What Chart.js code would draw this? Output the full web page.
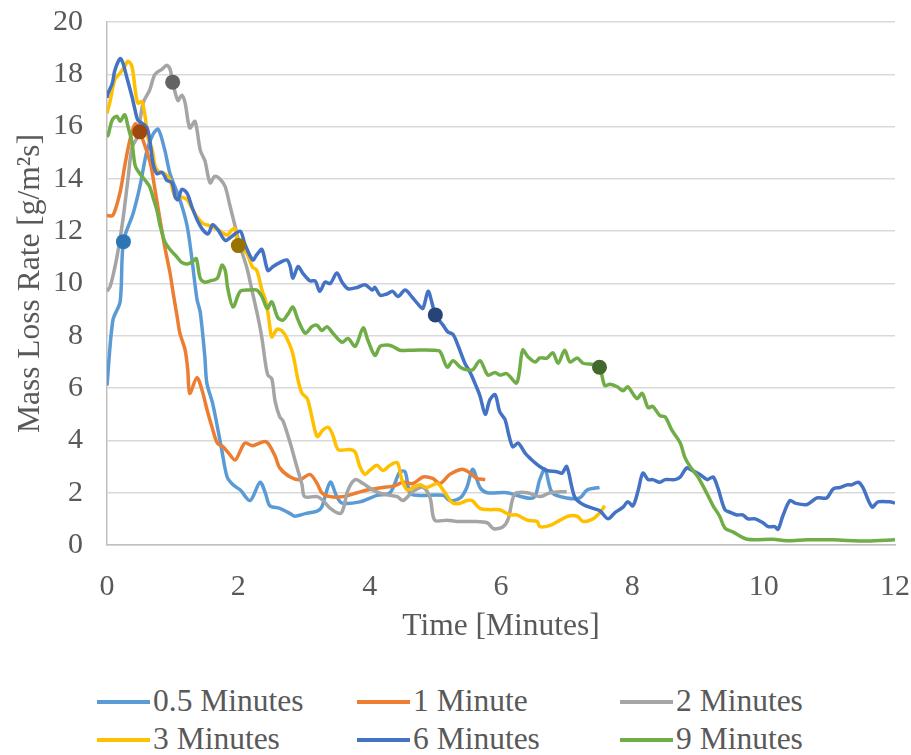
<!DOCTYPE html>
<html>
<head>
<meta charset="utf-8">
<script src="https://cdn.jsdelivr.net/npm/chart.js@4"></script>
<style>
  body { margin: 0; background: #fff; font-family: "Liberation Serif", "Times New Roman", serif; }
  #wrap { position: relative; width: 911px; height: 755px; }
  #legend { position: absolute; left: 0; top: 683px; width: 911px; }
  .item { position: absolute; font-size: 31.5px; color: #595959; line-height: 36px; white-space: nowrap; }
  .item span.swatch { display: inline-block; width: 53px; height: 4px; vertical-align: middle; margin-right: 3px; position: relative; top: -2px; }
</style>
</head>
<body>
<div id="wrap">
  <canvas id="massLoss" width="911" height="660"></canvas>
  <div id="legend"></div>
</div>
<script>
// Series labels and colours
const seriesNames = ['0.5 Minutes', '1 Minute', '2 Minutes', '3 Minutes', '6 Minutes', '9 Minutes'];
const lineColors = ['#5B9BD5', '#ED7D31', '#A5A5A5', '#FFC000', '#4472C4', '#70AD47'];
const markerColors = ['#2E75B6', '#9E480E', '#636363', '#997300', '#264478', '#43682B'];

// Heating time markers (time, rate)
const markerTimes = [0.25, 0.5, 1, 2, 5, 7.5];
const markerValues = [11.6, 15.8, 17.7, 11.45, 8.8, 6.8];

// 0.5 Minutes
const t05 = [0, 0.09, 0.2, 0.25, 0.4, 0.5, 0.61, 0.7, 0.78, 0.88, 0.96, 1.11, 1.22, 1.29, 1.37, 1.42, 1.49, 1.52, 1.61, 1.69, 1.75, 1.83, 1.92, 2.03, 2.18, 2.33, 2.41, 2.48, 2.63, 2.79, 2.86, 3.02, 3.2, 3.27, 3.4, 3.5, 3.58, 3.85, 4.11, 4.31, 4.46, 4.54, 4.61, 4.72, 5.12, 5.22, 5.38, 5.48, 5.57, 5.68, 5.79, 6.09, 6.49, 6.59, 6.67, 6.78, 7.0, 7.2, 7.31, 7.5];
const v05 = [6.1, 8.6, 9.3, 11.6, 12.7, 13.7, 15.1, 15.7, 15.9, 15.1, 14.2, 13.2, 12.2, 11.0, 9.4, 8.9, 7.2, 6.2, 5.4, 4.4, 3.6, 2.6, 2.3, 2.1, 1.7, 2.4, 2.0, 1.5, 1.4, 1.2, 1.1, 1.2, 1.3, 1.45, 2.4, 1.85, 1.6, 1.65, 1.9, 2.0, 2.8, 2.8, 2.0, 1.9, 1.9, 1.7, 1.8, 2.2, 2.9, 2.2, 2.0, 2.0, 1.8, 2.5, 2.9, 2.0, 1.8, 1.8, 2.1, 2.2];

// 1 Minute
const t1 = [0, 0.09, 0.2, 0.27, 0.35, 0.43, 0.5, 0.66, 0.73, 0.81, 0.88, 0.96, 1.0, 1.07, 1.11, 1.19, 1.23, 1.26, 1.37, 1.45, 1.52, 1.6, 1.68, 1.77, 1.84, 1.95, 2.03, 2.1, 2.22, 2.38, 2.45, 2.56, 2.63, 2.79, 2.94, 3.09, 3.2, 3.27, 3.4, 3.59, 3.81, 3.96, 4.2, 4.36, 4.51, 4.66, 4.81, 4.96, 5.07, 5.22, 5.41, 5.53, 5.63, 5.76];
const v1 = [12.6, 12.6, 13.5, 14.5, 15.5, 16.1, 15.8, 14.6, 13.6, 12.4, 11.4, 10.4, 9.75, 8.7, 8.1, 7.45, 6.7, 5.8, 6.4, 5.9, 5.2, 4.5, 3.9, 3.75, 3.55, 3.25, 3.6, 3.9, 3.8, 3.95, 3.9, 3.4, 2.95, 2.6, 2.5, 2.7, 2.35, 2.0, 1.85, 1.85, 2.0, 2.1, 2.2, 2.25, 2.4, 2.35, 2.6, 2.55, 2.35, 2.7, 2.9, 2.75, 2.55, 2.5];

// 2 Minutes
const t2 = [0, 0.05, 0.15, 0.24, 0.32, 0.38, 0.46, 0.55, 0.65, 0.73, 0.84, 0.91, 0.96, 1.0, 1.08, 1.14, 1.19, 1.26, 1.34, 1.42, 1.49, 1.57, 1.64, 1.72, 1.8, 1.87, 1.95, 2.03, 2.13, 2.22, 2.3, 2.36, 2.41, 2.45, 2.51, 2.56, 2.63, 2.68, 2.79, 2.89, 2.97, 3.01, 3.2, 3.29, 3.4, 3.55, 3.6, 3.67, 3.78, 3.9, 4.05, 4.2, 4.42, 4.51, 4.66, 4.81, 4.92, 4.99, 5.18, 5.33, 5.57, 5.79, 5.89, 6.03, 6.11, 6.21, 6.4, 6.59, 6.75, 7.0];
const v2 = [9.7, 9.9, 11.0, 12.4, 14.0, 15.2, 15.6, 16.9, 17.4, 18.0, 18.2, 18.35, 18.2, 17.7, 17.0, 17.2, 16.9, 15.95, 16.2, 15.1, 14.7, 13.85, 14.1, 14.0, 13.7, 13.0, 12.2, 11.4, 10.6, 9.6, 8.7, 7.9, 7.0, 6.5, 6.35, 5.5, 4.9, 4.75, 3.9, 3.0, 2.3, 1.85, 1.85, 1.7, 1.4, 1.2, 1.4, 2.1, 2.5, 2.35, 2.1, 1.95, 1.85, 1.7, 2.05, 2.2, 1.8, 0.95, 0.95, 0.9, 0.9, 0.85, 0.62, 0.7, 1.0, 1.95, 2.0, 1.85, 2.0, 2.05];

// 3 Minutes
const t3 = [0, 0.05, 0.12, 0.2, 0.27, 0.32, 0.38, 0.43, 0.47, 0.53, 0.58, 0.62, 0.69, 0.73, 0.78, 0.88, 0.96, 1.04, 1.14, 1.22, 1.29, 1.37, 1.46, 1.57, 1.69, 1.83, 1.9, 1.95, 2.0, 2.13, 2.21, 2.28, 2.36, 2.41, 2.45, 2.48, 2.51, 2.59, 2.66, 2.74, 2.82, 2.86, 2.91, 2.97, 3.05, 3.12, 3.2, 3.29, 3.37, 3.44, 3.52, 3.7, 3.78, 3.85, 3.93, 4.0, 4.11, 4.2, 4.31, 4.42, 4.49, 4.57, 4.66, 4.77, 4.87, 5.03, 5.12, 5.2, 5.27, 5.38, 5.48, 5.56, 5.68, 5.83, 5.98, 6.14, 6.24, 6.4, 6.55, 6.59, 6.75, 6.9, 7.02, 7.16, 7.25, 7.4, 7.51, 7.58];
const v3 = [16.5, 17.0, 17.8, 18.05, 18.3, 18.5, 18.3, 17.4, 16.9, 16.95, 16.4, 15.6, 15.1, 14.5, 14.3, 14.2, 13.95, 13.3, 13.3, 13.2, 12.9, 12.55, 12.3, 12.2, 12.05, 11.85, 12.05, 12.1, 11.45, 11.15, 10.65, 10.5, 9.75, 9.4, 8.9, 8.35, 7.95, 8.25, 8.2, 7.9, 7.4, 6.95, 6.3, 5.8, 5.6, 4.9, 4.15, 4.4, 4.5, 4.2, 3.65, 3.65, 3.55, 3.0, 2.7, 2.85, 3.05, 2.85, 3.05, 3.15, 2.5, 2.1, 2.2, 2.3, 2.2, 2.35, 2.1, 1.8, 1.6, 1.6, 1.7, 1.7, 1.4, 1.35, 1.35, 1.15, 1.15, 0.95, 0.9, 0.7, 0.75, 0.95, 1.1, 1.1, 0.9, 1.0, 1.25, 1.5];

// 6 Minutes
const t6 = [0, 0.02, 0.08, 0.12, 0.2, 0.24, 0.3, 0.38, 0.43, 0.47, 0.55, 0.61, 0.65, 0.7, 0.76, 0.84, 0.91, 0.99, 1.04, 1.08, 1.14, 1.22, 1.29, 1.37, 1.46, 1.54, 1.61, 1.69, 1.8, 1.9, 2.03, 2.1, 2.22, 2.28, 2.36, 2.45, 2.53, 2.63, 2.74, 2.79, 2.83, 2.91, 2.98, 3.09, 3.17, 3.24, 3.32, 3.4, 3.5, 3.58, 3.67, 3.81, 3.93, 4.04, 4.08, 4.16, 4.26, 4.35, 4.43, 4.54, 4.64, 4.74, 4.81, 4.89, 4.95, 5.0, 5.12, 5.19, 5.27, 5.35, 5.45, 5.53, 5.6, 5.68, 5.76, 5.83, 5.91, 5.98, 6.06, 6.12, 6.18, 6.26, 6.37, 6.47, 6.59, 6.7, 6.85, 6.93, 7.0, 7.08, 7.13, 7.25, 7.4, 7.51, 7.63, 7.74, 7.86, 7.93, 8.01, 8.09, 8.16, 8.24, 8.31, 8.42, 8.5, 8.65, 8.73, 8.83, 8.91, 9.03, 9.14, 9.23, 9.3, 9.41, 9.49, 9.59, 9.68, 9.76, 9.87, 9.99, 10.07, 10.17, 10.22, 10.29, 10.4, 10.48, 10.66, 10.81, 10.96, 11.06, 11.16, 11.27, 11.34, 11.44, 11.51, 11.65, 11.74, 11.92, 12.0];
const v6 = [17.1, 17.3, 17.65, 18.15, 18.6, 18.45, 17.9, 17.15, 16.6, 16.25, 16.1, 15.95, 15.5, 14.6, 14.2, 14.25, 13.95, 13.85, 13.3, 13.2, 13.6, 13.45, 12.95, 12.45, 12.05, 11.9, 12.25, 12.05, 11.65, 11.8, 12.0, 11.5, 10.9, 11.1, 11.3, 10.5, 10.65, 10.8, 10.9, 10.65, 10.2, 10.65, 10.4, 10.1, 10.1, 9.7, 10.05, 10.0, 10.4, 10.05, 9.8, 9.85, 9.95, 9.75, 9.85, 9.55, 9.6, 9.7, 9.5, 9.75, 9.5, 9.2, 9.05, 9.7, 9.25, 8.8, 8.4, 8.15, 8.05, 7.6, 6.95, 6.6, 6.2, 5.7, 5.0, 5.55, 5.75, 5.1, 4.8, 4.2, 3.75, 3.9, 3.5, 3.25, 3.0, 2.85, 2.8, 2.75, 3.0, 2.2, 1.8, 1.55, 1.4, 1.3, 1.0, 1.25, 1.45, 1.65, 1.5, 2.1, 2.75, 2.5, 2.5, 2.4, 2.5, 2.5, 2.6, 2.95, 2.85, 2.7, 2.5, 2.6, 2.2, 1.35, 1.25, 1.15, 1.15, 1.0, 1.0, 0.85, 0.7, 0.7, 0.6, 1.1, 1.7, 1.6, 1.55, 1.8, 1.8, 2.15, 2.2, 2.3, 2.3, 2.4, 2.2, 1.45, 1.65, 1.65, 1.6];

// 9 Minutes
const t9 = [0, 0.02, 0.08, 0.15, 0.2, 0.27, 0.32, 0.38, 0.43, 0.5, 0.58, 0.65, 0.7, 0.76, 0.81, 0.88, 0.96, 1.07, 1.14, 1.23, 1.31, 1.36, 1.42, 1.49, 1.57, 1.68, 1.75, 1.8, 1.84, 1.92, 2.03, 2.18, 2.28, 2.36, 2.44, 2.51, 2.6, 2.68, 2.76, 2.83, 2.91, 3.02, 3.12, 3.2, 3.27, 3.35, 3.44, 3.58, 3.67, 3.78, 3.9, 3.97, 4.08, 4.16, 4.26, 4.35, 4.46, 4.66, 4.96, 5.07, 5.18, 5.27, 5.38, 5.48, 5.57, 5.68, 5.8, 5.91, 5.98, 6.09, 6.24, 6.33, 6.41, 6.52, 6.59, 6.7, 6.79, 6.87, 6.97, 7.05, 7.16, 7.25, 7.4, 7.5, 7.58, 7.66, 7.77, 7.86, 7.93, 8.07, 8.15, 8.24, 8.31, 8.42, 8.5, 8.6, 8.73, 8.8, 8.88, 9.0, 9.14, 9.23, 9.33, 9.41, 9.53, 9.75, 10.14, 10.35, 10.66, 11.05, 11.57, 12.0];
const v9 = [15.6, 15.7, 16.25, 16.4, 16.2, 16.45, 16.0, 15.4, 14.5, 14.2, 13.95, 13.7, 13.3, 12.8, 12.2, 11.6, 11.3, 11.0, 10.8, 10.75, 10.85, 10.95, 10.2, 10.05, 10.1, 10.2, 10.7, 10.5, 9.8, 9.1, 9.7, 9.75, 9.75, 9.5, 9.05, 9.3, 8.7, 8.6, 8.85, 9.1, 8.6, 8.1, 8.35, 8.4, 8.2, 8.35, 8.1, 7.75, 7.9, 7.6, 8.3, 7.85, 7.25, 7.6, 7.65, 7.6, 7.45, 7.45, 7.45, 7.4, 6.8, 7.05, 6.8, 6.7, 6.7, 7.05, 6.5, 6.6, 6.5, 6.55, 6.2, 7.45, 7.2, 7.0, 7.15, 7.15, 7.35, 6.95, 7.45, 7.0, 7.15, 6.95, 6.9, 6.8, 6.1, 6.15, 6.05, 5.9, 6.05, 5.6, 5.8, 5.25, 5.3, 4.95, 4.9, 4.4, 3.9, 3.35, 3.0, 2.6, 1.95, 1.5, 1.1, 0.65, 0.5, 0.22, 0.22, 0.16, 0.2, 0.2, 0.15, 0.2];

const seriesTimes = [t05, t1, t2, t3, t6, t9];
const seriesValues = [v05, v1, v2, v3, v6, v9];

const font = 'Liberation Serif';
const textColor = '#595959';

function toPoints(times, values) {
    return times.map((t, i) => ({ x: t, y: values[i] }));
}

const datasets = seriesNames.map((name, i) => ({
    label: name,
    data: toPoints(seriesTimes[i], seriesValues[i]),
    borderColor: lineColors[i],
    backgroundColor: lineColors[i],
    borderWidth: 3.5,
    pointRadius: 0,
    tension: 0.3,
    fill: false,
    order: 10 - i  // later series on top, like the original
}));

// markers drawn above every line
datasets.push({
    label: 'markers',
    data: toPoints(markerTimes, markerValues),
    showLine: false,
    pointRadius: 7.5,
    pointBorderWidth: 0,
    pointBackgroundColor: markerColors,
    order: 0
});

const ctx = document.getElementById('massLoss').getContext('2d');
const massLossChart = new Chart(ctx, {
    type: 'line',
    data: { datasets: datasets },
    options: {
        responsive: false,
        animation: false,
        devicePixelRatio: 1,
        layout: { padding: { top: 22, right: 16, left: 6, bottom: 0 } },
        plugins: {
            legend: { display: false },
            tooltip: { enabled: false }
        },
        scales: {
            x: {
                type: 'linear',
                min: 0,
                max: 12,
                ticks: { stepSize: 2, color: textColor, font: { family: font, size: 30 }, padding: 16 },
                grid: { display: false },
                border: { display: true, color: '#bfbfbf', width: 1.5 },
                title: { display: true, text: 'Time [Minutes]', color: textColor, font: { family: font, size: 31.5 }, padding: { top: 4, bottom: 14 } },
                afterFit: function (scale) {
                    scale.height = 115;
                    scale.paddingLeft = 0;
                    scale.paddingRight = 0;
                }
            },
            y: {
                min: 0,
                max: 20,
                ticks: { stepSize: 2, color: textColor, font: { family: font, size: 30 }, padding: 24 },
                grid: { color: '#d9d9d9', lineWidth: 1.5, drawTicks: false },
                border: { display: true, color: '#bfbfbf', width: 1.5 },
                title: { display: true, text: 'Mass Loss Rate [g/m²s]', color: textColor, font: { family: font, size: 31.5 }, padding: { top: 6, bottom: 4 } },
                afterFit: function (scale) {
                    scale.width = 101;
                    scale.paddingTop = 0;
                    scale.paddingBottom = 0;
                }
            }
        }
    }
});

// legend in three columns, two rows
const legendCols = [97, 357, 620];
const legendRows = [0, 38];
const legendBox = document.getElementById('legend');
seriesNames.forEach((name, i) => {
    const item = document.createElement('div');
    item.className = 'item';
    item.style.left = legendCols[i % 3] + 'px';
    item.style.top = legendRows[Math.floor(i / 3)] + 'px';
    const sw = document.createElement('span');
    sw.className = 'swatch';
    sw.style.background = lineColors[i];
    item.appendChild(sw);
    item.appendChild(document.createTextNode(name));
    legendBox.appendChild(item);
});
</script>
</body>
</html>
